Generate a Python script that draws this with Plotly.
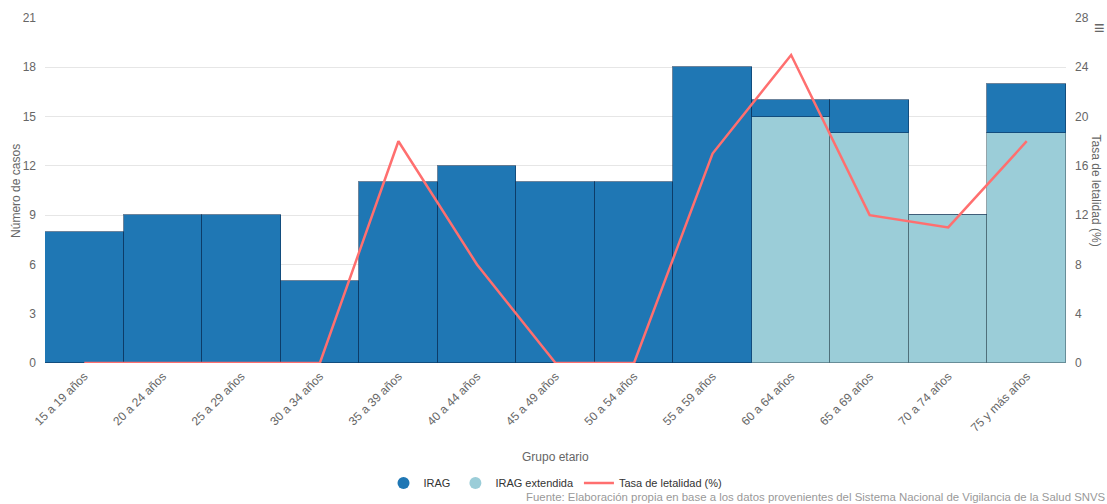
import plotly.graph_objects as go

categorias = ["15 a 19 años", "20 a 24 años", "25 a 29 años", "30 a 34 años",
              "35 a 39 años", "40 a 44 años", "45 a 49 años", "50 a 54 años",
              "55 a 59 años", "60 a 64 años", "65 a 69 años", "70 a 74 años",
              "75 y más años"]
irag = [8, 9, 9, 5, 11, 12, 11, 11, 18, 1, 2, 0, 3]
irag_extendida = [0, 0, 0, 0, 0, 0, 0, 0, 0, 15, 14, 9, 14]
tasa_letalidad = [0, 0, 0, 0, 18, 8, 0, 0, 17, 25, 12, 11, 18]

FONT = "Liberation Sans, Arial, sans-serif"
C_IRAG = "#1F77B4"
C_EXT = "#9BCDD8"
C_TASA = "#FF6F6F"

fig = go.Figure()
fig.add_trace(go.Bar(
    x=categorias, y=irag_extendida, name="IRAG extendida",
    marker=dict(color=C_EXT, line=dict(color="rgba(60,90,100,0.55)", width=1)),
    showlegend=False,
))
fig.add_trace(go.Bar(
    x=categorias, y=irag, name="IRAG",
    marker=dict(color=C_IRAG, line=dict(color="rgba(10,50,90,0.6)", width=1)),
    showlegend=False,
))
fig.add_trace(go.Scatter(
    x=categorias, y=tasa_letalidad, name="Tasa de letalidad (%)", yaxis="y2",
    mode="lines", line=dict(color=C_TASA, width=2.5),
    legendrank=3,
))
# legend proxies (circle symbols, as in the reference)
fig.add_trace(go.Scatter(x=[None], y=[None], mode="markers", name="IRAG",
                         marker=dict(symbol="circle", size=12, color=C_IRAG),
                         legendrank=1))
fig.add_trace(go.Scatter(x=[None], y=[None], mode="markers", name="IRAG extendida",
                         marker=dict(symbol="circle", size=12, color=C_EXT),
                         legendrank=2))

fig.update_layout(
    width=1107, height=504,
    margin=dict(l=45, r=41, t=18, b=141, autoexpand=False),
    paper_bgcolor="white", plot_bgcolor="white",
    barmode="stack", bargap=0,
    font=dict(family=FONT, color="#666666", size=12),
    showlegend=True,
    legend=dict(orientation="h", x=0.5, xanchor="center", y=-0.348, yanchor="middle",
                font=dict(size=11, color="#333333"), traceorder="normal",
                itemwidth=30, tracegroupgap=0),
    xaxis=dict(tickangle=-45, tickfont=dict(size=12, color="#666666"),
               showgrid=False, showline=False, ticks="", automargin=False,
               ticklabelstandoff=3),
    yaxis=dict(range=[0, 21], tickvals=[0, 3, 6, 9, 12, 15, 18, 21],
               showgrid=True, gridcolor="#e6e6e6", zeroline=False, automargin=False,
               tickfont=dict(size=12, color="#666666"), ticklabelstandoff=8),
    yaxis2=dict(range=[0, 28], tickvals=[0, 4, 8, 12, 16, 20, 24, 28],
                overlaying="y", side="right", showgrid=False, zeroline=False,
                automargin=False,
                tickfont=dict(size=12, color="#666666"), ticklabelstandoff=8),
    annotations=[
        dict(text="Número de casos", xref="paper", yref="paper",
             x=-0.029, y=0.5, xanchor="center", yanchor="middle", textangle=-90,
             showarrow=False, font=dict(size=12, color="#666666")),
        dict(text="Tasa de letalidad (%)", xref="paper", yref="paper",
             x=1.0303, y=0.5, xanchor="center", yanchor="middle", textangle=90,
             showarrow=False, font=dict(size=12, color="#666666")),
        dict(text="Grupo etario", xref="paper", yref="paper",
             x=0.5, y=-0.272, xanchor="center", yanchor="middle",
             showarrow=False, font=dict(size=12, color="#666666")),
        dict(text="Fuente: Elaboración propia en base a los datos provenientes del Sistema Nacional de Vigilancia de la Salud SNVS 2.0",
             xref="paper", yref="paper", x=0.4691, y=-0.3884, xanchor="left", yanchor="middle",
             showarrow=False, font=dict(size=11.4, color="#999999")),
        dict(text="≡", xref="paper", yref="paper", x=1.0333, y=0.971,
             xanchor="center", yanchor="middle", showarrow=False,
             font=dict(size=18, color="#666666")),
    ],
)

fig.write_html("out.html", config={"displayModeBar": False},
               post_script="document.body.style.margin='0';document.body.style.overflow='hidden';")
